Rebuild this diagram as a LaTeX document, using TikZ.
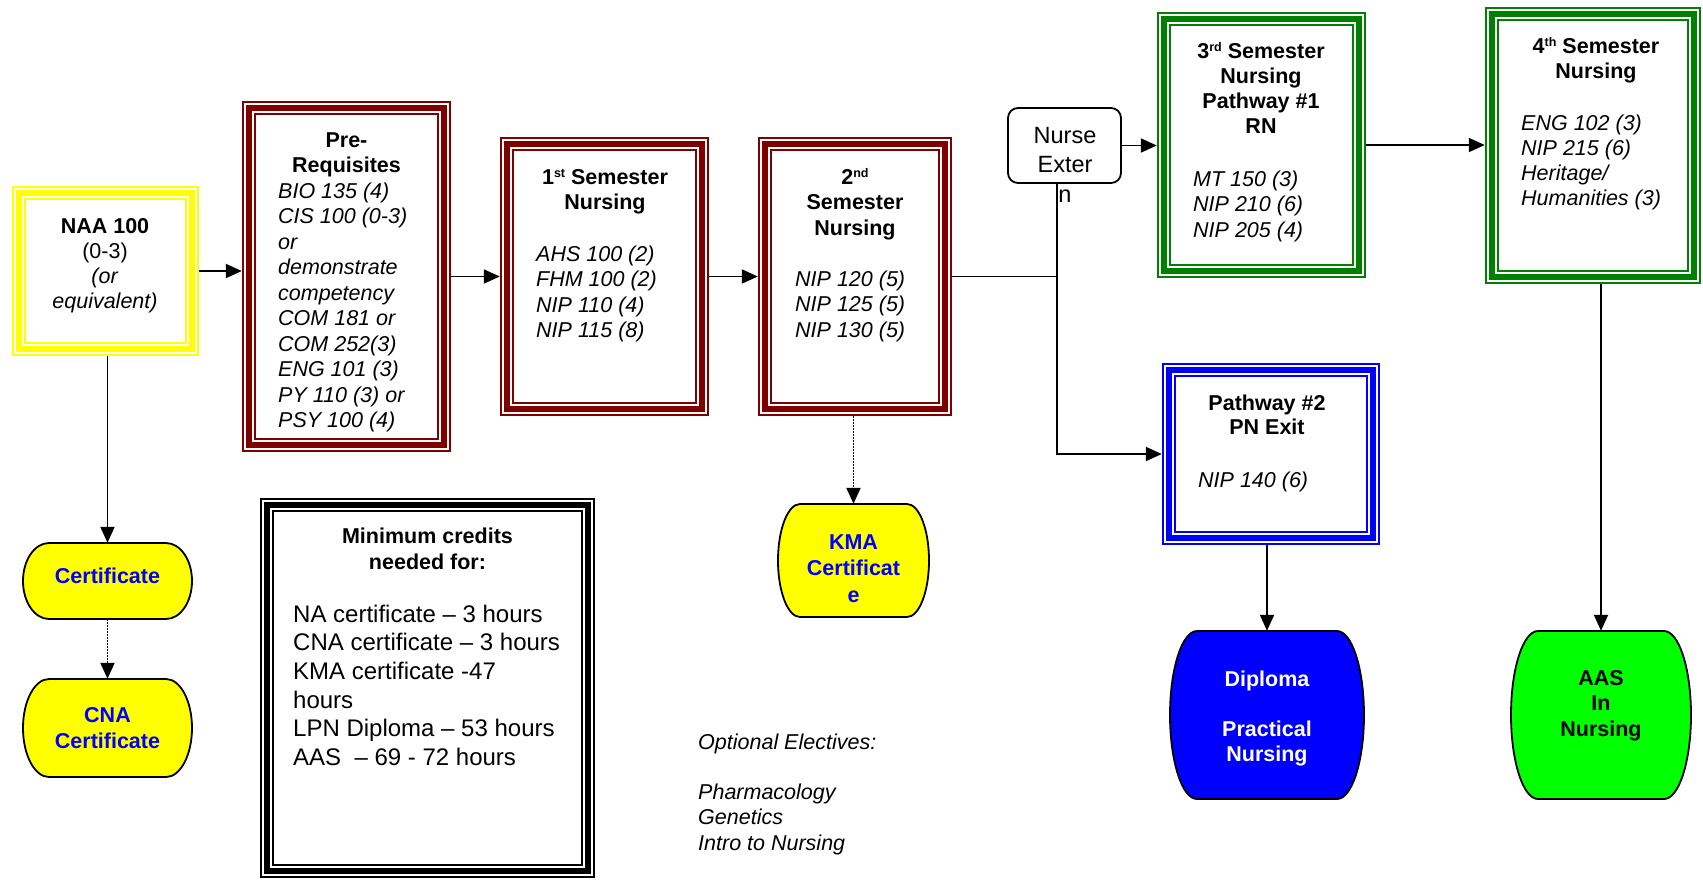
\documentclass[tikz,border=0pt]{standalone}
\usepackage{fontspec}
\setmainfont{Liberation Sans}
\usetikzlibrary{arrows.meta,fit}
\definecolor{myyellow}{RGB}{255,255,0}
\definecolor{myred}{RGB}{128,0,0}
\definecolor{mygreen}{RGB}{0,128,0}
\definecolor{myblue}{RGB}{0,0,255}
\definecolor{mylime}{RGB}{0,255,0}
\newcommand{\tribox}[6]{%
  \node[fit={(#3,#4) (#5,#6)}, inner sep=0pt, draw=none] (#1) {};
  \draw[#2, line width=2pt] ([shift={(1,1)}]#1.north west) rectangle ([shift={(-1,-1)}]#1.south east);
  \draw[#2, line width=5.5pt] ([shift={(7,7)}]#1.north west) rectangle ([shift={(-7,-7)}]#1.south east);
  \draw[#2, line width=2pt] ([shift={(13,13)}]#1.north west) rectangle ([shift={(-13,-13)}]#1.south east);
}
\newcommand{\termshape}[7]{%
  \pgfmathsetmacro{\tsA}{#3+#7}%
  \pgfmathsetmacro{\tsB}{#5-#7}%
  \pgfmathsetmacro{\tsM}{(#4+#6)/2}%
  \pgfmathsetmacro{\tsCa}{#3+#7*0.448}%
  \pgfmathsetmacro{\tsCb}{#5-#7*0.448}%
  \pgfmathsetmacro{\tsH}{(#6-#4)/2*0.552}%
  \pgfmathsetmacro{\tsUp}{\tsM-\tsH}%
  \pgfmathsetmacro{\tsDn}{\tsM+\tsH}%
  \filldraw[fill=#2, draw=black, line width=1.8pt] (\tsA,#4) -- (\tsB,#4) .. controls (\tsCb,#4) and (#5,\tsUp) .. (#5,\tsM) .. controls (#5,\tsDn) and (\tsCb,#6) .. (\tsB,#6) -- (\tsA,#6) .. controls (\tsCa,#6) and (#3,\tsDn) .. (#3,\tsM) .. controls (#3,\tsUp) and (\tsCa,#4) .. (\tsA,#4) -- cycle;
  \node[fit={(#3,#4) (#5,#6)}, inner sep=0pt] (#1) {};
}
\newcommand{\sups}[1]{\raisebox{7pt}{\fontsize{12.5}{12.5}\selectfont #1}}
\begin{document}
\begin{tikzpicture}[x=1pt,y=-1pt,
  txt/.style={inner sep=0pt, font=\fontsize{21.5}{25.5}\selectfont},
  hd/.style={txt, anchor=base, font=\fontsize{21.5}{25.5}\selectfont\bfseries},
  lst/.style={txt, anchor=base west, font=\fontsize{21.5}{25.5}\selectfont\itshape},
  arr/.style={draw, line width=1.9pt, -{Triangle[length=16pt,width=14pt]}},
  dotarr/.style={draw, line width=1.9pt, dash pattern=on 1.5pt off 1.5pt, -{Triangle[length=16pt,width=14pt]}},
  plain/.style={draw, line width=1.9pt}]
\useasboundingbox (0,0) rectangle (1703,879);
\clip (0,0) rectangle (1703,879);

% boxes
\tribox{naa}{myyellow}{12}{186}{199}{356}
\tribox{pre}{myred}{242}{101}{451}{452}
\tribox{first}{myred}{500}{137}{709}{416}
\tribox{second}{myred}{758}{137}{952}{416}
\tribox{third}{mygreen}{1157}{12}{1366}{278}
\tribox{fourth}{mygreen}{1485}{7}{1701}{284}
\tribox{pw}{myblue}{1162}{363}{1380}{545}
\tribox{mini}{black}{260}{498}{595}{878}

\node[fit={(1008,108) (1121,183)}, inner sep=0pt, draw, line width=1.8pt, rounded corners=10pt] (nurse) {};

% terminals
\termshape{cert}{myyellow}{23}{543}{192}{619}{26}
\termshape{cna}{myyellow}{23}{679}{192}{777}{26}
\termshape{kma}{myyellow}{778}{504}{929}{617}{22}
\termshape{dip}{myblue}{1170}{631}{1364}{799}{27}
\termshape{aas}{mylime}{1511}{631}{1691}{799}{27}

% texts
\node[txt, anchor=base, font=\fontsize{21.5}{25}\selectfont] (naa-t) at (105,233) {\begin{tabular}[t]{@{}c@{}}\textbf{NAA 100}\\(0-3)\\\textit{(or}\\\textit{equivalent)}\end{tabular}};

\node[hd] (pre-h) at (346.5,147) {\begin{tabular}[t]{@{}c@{}}Pre-\\Requisites\end{tabular}};
\node[lst] (pre-l) at (278,198) {\begin{tabular}[t]{@{}l@{}}BIO 135 (4)\\CIS 100 (0-3)\\or\\demonstrate\\competency\\COM 181 or\\COM 252(3)\\ENG 101 (3)\\PY 110 (3) or\\PSY 100 (4)\end{tabular}};

\node[hd] (first-h) at (605,184) {\begin{tabular}[t]{@{}c@{}}1\sups{st} Semester\\Nursing\end{tabular}};
\node[lst] (first-l) at (536,261) {\begin{tabular}[t]{@{}l@{}}AHS 100 (2)\\FHM 100 (2)\\NIP 110 (4)\\NIP 115 (8)\end{tabular}};

\node[hd] (second-h) at (855,184) {\begin{tabular}[t]{@{}c@{}}2\sups{nd}\\Semester\\Nursing\end{tabular}};
\node[lst] (second-l) at (795,286) {\begin{tabular}[t]{@{}l@{}}NIP 120 (5)\\NIP 125 (5)\\NIP 130 (5)\end{tabular}};

\node[hd, font=\fontsize{21.5}{25}\selectfont\bfseries] (third-h) at (1261,58) {\begin{tabular}[t]{@{}c@{}}3\sups{rd} Semester\\Nursing\\Pathway \#1\\RN\end{tabular}};
\node[lst] (third-l) at (1193,186) {\begin{tabular}[t]{@{}l@{}}MT 150 (3)\\NIP 210 (6)\\NIP 205 (4)\end{tabular}};

\node[hd, font=\fontsize{21.5}{25}\selectfont\bfseries] (fourth-h) at (1596,53) {\begin{tabular}[t]{@{}c@{}}4\sups{th} Semester\\Nursing\end{tabular}};
\node[lst, font=\fontsize{21.5}{25}\selectfont\itshape] (fourth-l) at (1521,130) {\begin{tabular}[t]{@{}l@{}}ENG 102 (3)\\NIP 215 (6)\\Heritage/\\Humanities (3)\end{tabular}};

\node[hd, font=\fontsize{21.5}{24}\selectfont\bfseries] (pw-h) at (1267,410) {\begin{tabular}[t]{@{}c@{}}Pathway \#2\\PN Exit\end{tabular}};
\node[lst] (pw-l) at (1198,487) {NIP 140 (6)};

\node[txt, anchor=base, font=\fontsize{23.5}{29.5}\selectfont] (nurse-t) at (1065,143) {\begin{tabular}[t]{@{}c@{}}Nurse\\Exter\\n\end{tabular}};

\node[hd, text=myblue] (cert-t) at (107.5,583) {Certificate};
\node[hd, text=myblue, font=\fontsize{21.5}{26}\selectfont\bfseries] (cna-t) at (107.5,722) {\begin{tabular}[t]{@{}c@{}}CNA\\Certificate\end{tabular}};
\node[hd, text=myblue, font=\fontsize{21.5}{26.5}\selectfont\bfseries] (kma-t) at (853.5,549) {\begin{tabular}[t]{@{}c@{}}KMA\\Certificat\\e\end{tabular}};
\node[hd, text=white, font=\fontsize{21.5}{25}\selectfont\bfseries] (dip-t) at (1267,686) {\begin{tabular}[t]{@{}c@{}}Diploma\\ \\Practical\\Nursing\end{tabular}};
\node[hd, text=black] (aas-t) at (1601,685) {\begin{tabular}[t]{@{}c@{}}AAS\\In\\Nursing\end{tabular}};

\node[hd, font=\fontsize{21.5}{26}\selectfont\bfseries] (mini-h) at (427.5,543) {\begin{tabular}[t]{@{}c@{}}Minimum credits\\needed for:\end{tabular}};
\node[txt, anchor=base west, font=\fontsize{24}{28.7}\selectfont] (mini-l) at (293,622) {\begin{tabular}[t]{@{}l@{}}NA certificate -- 3 hours\\CNA certificate -- 3 hours\\KMA certificate -47\\hours\\LPN Diploma -- 53 hours\\AAS \ -- 69 - 72 hours\end{tabular}};

\node[lst, font=\fontsize{21.5}{25.3}\selectfont\itshape] (opt) at (698,749) {\begin{tabular}[t]{@{}l@{}}Optional Electives:\\ \\Pharmacology\\Genetics\\Intro to Nursing\end{tabular}};

% connectors
\coordinate (junc) at (1057,276.5);
\draw[arr] (naa.east) -- (naa.east -| pre.west);
\draw[arr] (pre.east) -- (first.west);
\draw[arr] (first.east) -- (second.west);
\draw[plain] (second.east) -- (junc);
\draw[arr] (nurse.south -| junc) -- (junc |- pw.west) -- (pw.west);
\draw[arr] (nurse.east) -- (nurse.east -| third.west);
\draw[arr] (third.east) -- (third.east -| fourth.west);
\draw[arr] (aas.north |- fourth.south) -- (aas.north);
\draw[arr] (dip.north |- pw.south) -- (dip.north);
\draw[arr] (cert.north |- naa.south) -- (cert.north);
\draw[dotarr] (cert.south) -- (cna.north);
\draw[dotarr] (kma.north |- second.south) -- (kma.north);
\end{tikzpicture}
\end{document}
